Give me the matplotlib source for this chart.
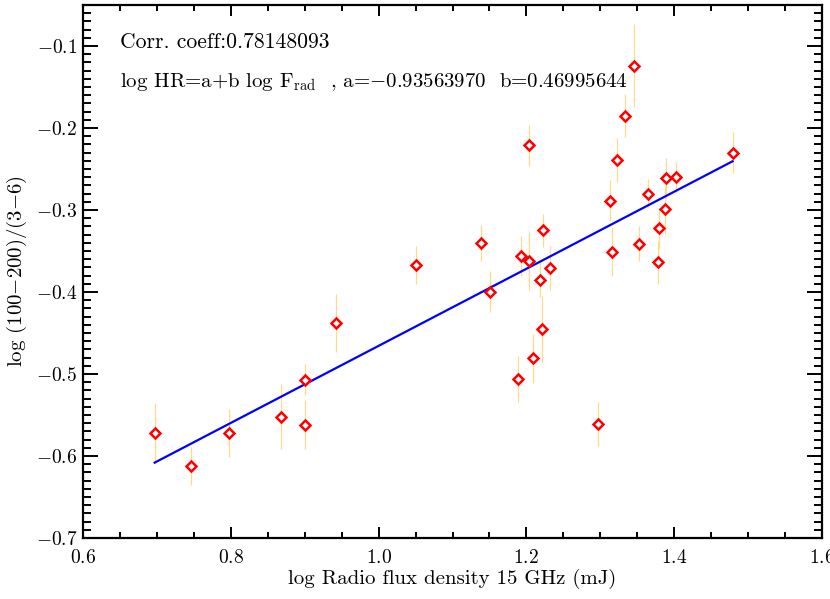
import matplotlib
matplotlib.use("Agg")
import matplotlib.pyplot as plt
import numpy as np
from matplotlib.ticker import MultipleLocator, FormatStrFormatter

plt.rcParams['mathtext.fontset'] = 'cm'
plt.rcParams['mathtext.rm'] = 'cmr10'
plt.rcParams['font.family'] = ['cmr10', 'DejaVu Serif']
plt.rcParams['axes.formatter.use_mathtext'] = True
plt.rcParams['axes.unicode_minus'] = False

# log radio flux (x), log hardness ratio (y), error on y
log_frad = [0.697, 0.746, 0.797, 0.868, 0.901, 0.901, 0.942, 1.051, 1.139, 1.151,
            1.188, 1.193, 1.203, 1.204, 1.209, 1.218, 1.221, 1.223, 1.232, 1.297,
            1.313, 1.316, 1.322, 1.334, 1.346, 1.352, 1.365, 1.378, 1.380, 1.388,
            1.389, 1.403, 1.479]
log_hr = [-0.572, -0.612, -0.572, -0.552, -0.507, -0.562, -0.438, -0.367, -0.340, -0.400,
          -0.506, -0.356, -0.362, -0.221, -0.481, -0.385, -0.445, -0.325, -0.371, -0.561,
          -0.289, -0.351, -0.239, -0.185, -0.124, -0.341, -0.280, -0.364, -0.322, -0.299,
          -0.261, -0.260, -0.230]
err_hr = [0.037, 0.023, 0.029, 0.040, 0.019, 0.030, 0.035, 0.023, 0.022, 0.025,
          0.028, 0.024, 0.035, 0.025, 0.030, 0.021, 0.040, 0.020, 0.027, 0.027,
          0.025, 0.030, 0.027, 0.026, 0.051, 0.021, 0.018, 0.026, 0.025, 0.030,
          0.024, 0.019, 0.025]

corr = "0.78148093"
a = -0.93563970
b = 0.46995644

fig = plt.figure(figsize=(8.30, 5.99), dpi=100)
ax = fig.add_axes([83/830, 61/599, 739/830, 533/599])

ax.errorbar(log_frad, log_hr, yerr=err_hr, fmt='none', ecolor='#FFD98C',
            elinewidth=0.9, capsize=0, zorder=1)
ax.plot(log_frad, log_hr, 'D', ms=5.3, mfc='white', mec='red', mew=1.8, zorder=3)

xfit = np.array([min(log_frad), max(log_frad)])
ax.plot(xfit, a + b * xfit, color='blue', lw=1.6, zorder=2)

ax.set_xlim(0.6, 1.6)
ax.set_ylim(-0.7, -0.05)
ax.xaxis.set_major_locator(MultipleLocator(0.2))
ax.xaxis.set_minor_locator(MultipleLocator(0.05))
ax.yaxis.set_major_locator(MultipleLocator(0.1))
ax.yaxis.set_minor_locator(MultipleLocator(0.01))
ax.xaxis.set_major_formatter(FormatStrFormatter(r'$\mathrm{%.1f}$'))
ax.yaxis.set_major_formatter(FormatStrFormatter(r'$\mathrm{%.1f}$'))

ax.tick_params(axis='both', which='both', direction='in', top=True, right=True,
               width=1.4, labelsize=14)
ax.tick_params(axis='x', which='major', length=8, pad=8)
ax.tick_params(axis='x', which='minor', length=4)
ax.tick_params(axis='y', which='major', length=11, pad=4)
ax.tick_params(axis='y', which='minor', length=5.5)
for sp in ax.spines.values():
    sp.set_linewidth(1.6)

ax.set_xlabel('log Radio flux density 15 GHz (mJ)', fontsize=15, labelpad=1)
ax.set_ylabel('log (100$-$200)/(3$-$6)', fontsize=15, labelpad=5)

ax.text(0.050, 0.93, 'Corr. coeff:' + corr,
        transform=ax.transAxes, fontsize=15.6, va='center')
ax.text(0.050, 0.855,
        r'log HR=a+b log F$_{\rm rad}$  , a=$-$%.8f  b=%.8f' % (abs(a), b),
        transform=ax.transAxes, fontsize=15, va='center')

fig.savefig("out.png", dpi=100)
